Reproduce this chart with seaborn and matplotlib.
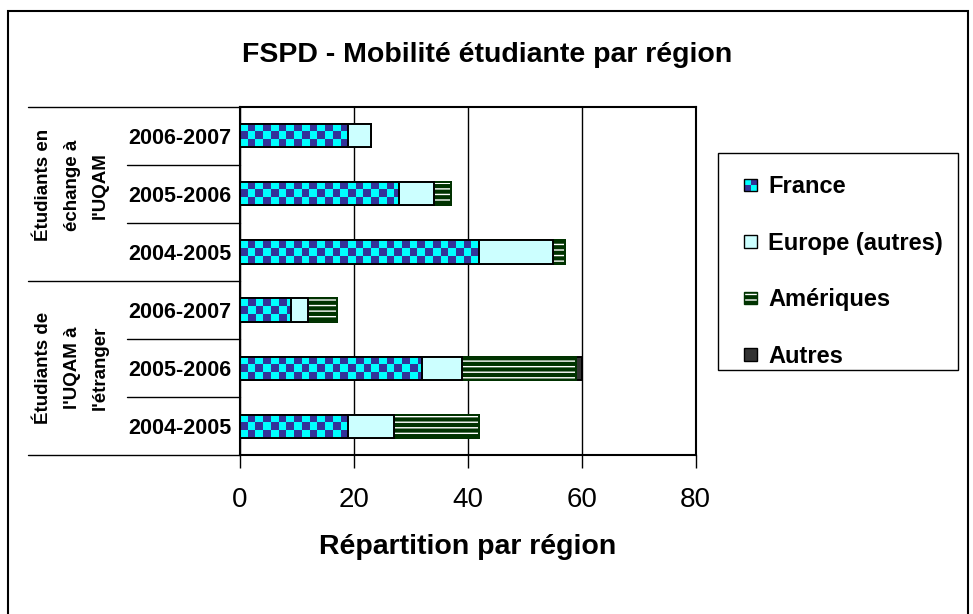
import numpy as np
import pandas as pd
import matplotlib
matplotlib.use('Agg')
import matplotlib.pyplot as plt
import seaborn as sns
from matplotlib.colors import ListedColormap
from matplotlib.patches import Rectangle, Patch
from matplotlib.legend_handler import HandlerBase

# Données (de haut en bas)
groupes = ["Étudiants en\néchange à\nl'UQAM", "Étudiants de\nl'UQAM à\nl'étranger"]
annees = ['2006-2007', '2005-2006', '2004-2005', '2006-2007', '2005-2006', '2004-2005']
france = [19, 28, 42, 9, 32, 19]
europe = [4, 6, 13, 3, 7, 8]
ameriques = [0, 3, 2, 5, 20, 15]
autres = [0, 0, 0, 0, 1, 0]

regions = ['France', 'Europe (autres)', 'Amériques', 'Autres']

df = pd.DataFrame({
    'ligne': [f'{i}' for i in range(len(annees))],
    'France': france,
    'Europe (autres)': europe,
    'Amériques': ameriques,
    'Autres': autres,
})
# cumul pour l'empilement
cum = df[regions].cumsum(axis=1)
for r in regions:
    df['cum_' + r] = cum[r]

sns.set_style('white')
plt.rcParams['font.family'] = ['Liberation Sans', 'DejaVu Sans']
plt.rcParams['hatch.linewidth'] = 3
for k in ['text.color', 'axes.labelcolor', 'xtick.color', 'ytick.color']:
    plt.rcParams[k] = 'black'

fig = plt.figure(figsize=(9.73, 6.14), dpi=100)
ax = fig.add_axes([240 / 973, 1 - 455.3 / 614, 455.7 / 973, 348.6 / 614])

bleu, cyan = '#333399', '#00FFFF'
styles = {
    'Autres': dict(color='#333333', edgecolor='black'),
    'Amériques': dict(color='white', edgecolor='#003300', hatch='---'),
    'Europe (autres)': dict(color='#CCFFFF', edgecolor='black'),
    'France': dict(color=cyan, edgecolor='black'),
}
for r in regions[::-1]:
    sns.barplot(data=df, x='cum_' + r, y='ligne', orient='h', ax=ax,
                width=0.4, saturation=1, errorbar=None, linewidth=1.4,
                **styles[r])

# damier pour la France
cmap = ListedColormap([cyan, bleu])
cell = 1.35
for p in ax.containers[-1]:
    x0, y0 = p.get_x(), p.get_y()
    w, h = p.get_width(), p.get_height()
    nc = int(np.ceil(w / cell)) + 1
    grid = (np.add.outer(np.arange(3), np.arange(nc)) % 2)
    im = ax.imshow(grid, cmap=cmap, interpolation='nearest', aspect='auto',
                   extent=(x0, x0 + nc * cell, y0 + h, y0), zorder=2.5)
    im.set_clip_path(p)
    p.set_facecolor('none')
    p.set_zorder(3)

ax.set_xlim(0, 80)
ax.set_ylim(5.5, -0.5)
ax.set_xticks([0, 20, 40, 60, 80])
ax.tick_params(axis='x', labelsize=20, length=9, width=1, color='black',
               direction='out', pad=14, bottom=True)
ax.set_yticks(range(len(annees)))
ax.set_yticklabels(annees, fontweight='bold', fontsize=15.5)
ax.tick_params(axis='y', length=0, pad=6)
ax.xaxis.grid(True, color='black', linewidth=1)
ax.set_axisbelow(True)
for s in ax.spines.values():
    s.set_color('black')
    s.set_linewidth(1.5)
ax.set_ylabel('')
ax.set_xlabel('Répartition par région', fontsize=20.5, fontweight='bold',
              labelpad=15)

# tableau des catégories à gauche
trans = matplotlib.transforms.blended_transform_factory(ax.transAxes, ax.transData)
x_court = (127 - 240) / 455.7
x_long = (28 - 240) / 455.7
for yb in [-0.5, 0.5, 1.5, 2.5, 3.5, 4.5, 5.5]:
    x_start = x_long if yb in (-0.5, 2.5, 5.5) else x_court
    ax.plot([x_start, 0], [yb, yb], transform=trans, color='black',
            linewidth=1, clip_on=False)
for g, yc in zip(groupes, [0.85, 4.0]):
    ax.text((72 - 240) / 455.7, yc, g, transform=trans, rotation=90,
            ha='center', va='center', multialignment='center',
            fontsize=13.5, fontweight='bold', linespacing=1.85)

fig.text(487 / 973, 1 - 55 / 614, 'FSPD - Mobilité étudiante par région',
         ha='center', va='center', fontsize=20.5, fontweight='bold')


class Damier(HandlerBase):
    def create_artists(self, legend, orig_handle, xdescent, ydescent,
                       width, height, fontsize, trans):
        arts = []
        w, h = width / 2, height / 2
        for i in range(2):
            for j in range(2):
                c = bleu if (i + j) % 2 == 0 else cyan
                arts.append(Rectangle((-xdescent + i * w, -ydescent + j * h), w, h,
                                      facecolor=c, edgecolor='none', transform=trans))
        arts.append(Rectangle((-xdescent, -ydescent), width, height,
                              facecolor='none', edgecolor='black', lw=1,
                              transform=trans))
        return arts


handles = [
    Patch(facecolor=cyan),
    Patch(facecolor='#CCFFFF', edgecolor='black', lw=1),
    Patch(facecolor='white', edgecolor='#003300', hatch='---', lw=1),
    Patch(facecolor='#333333', edgecolor='black', lw=1),
]
leg = fig.legend(handles, regions, handler_map={handles[0]: Damier()},
                 loc='upper left', bbox_to_anchor=(722 / 973, 1 - 153 / 614),
                 bbox_transform=fig.transFigure, borderaxespad=0,
                 prop={'weight': 'bold', 'size': 17}, frameon=False,
                 handlelength=0.55, handleheight=0.45, handletextpad=0.45,
                 labelspacing=1.42, borderpad=0.95)

# cadre de la légende
fig.patches.append(Rectangle((718 / 973, 1 - 370 / 614), 240 / 973, 217 / 614,
                             transform=fig.transFigure, fill=False,
                             edgecolor='black', linewidth=1))

# cadre extérieur
fig.patches.append(Rectangle((8 / 973, -0.05), (968 - 8) / 973, 1 - 11 / 614 + 0.05,
                             transform=fig.transFigure, fill=False,
                             edgecolor='black', linewidth=1.5))

fig.savefig('out.png', dpi=100)
